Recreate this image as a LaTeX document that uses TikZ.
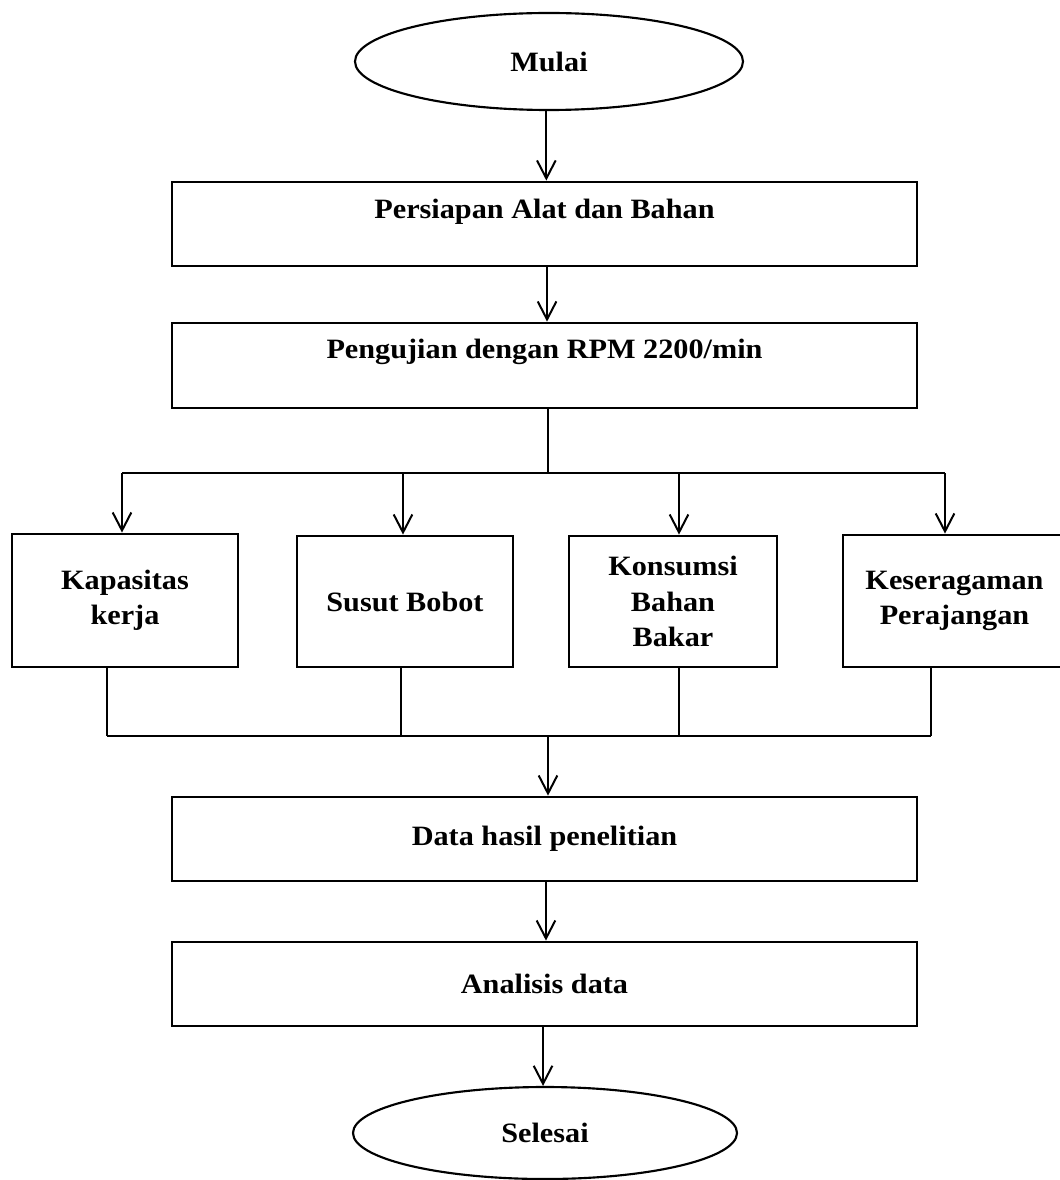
\documentclass[tikz,border=0pt]{standalone}
\usepackage{fontspec}
\setmainfont{Liberation Serif}[FakeStretch=1.08]
\usetikzlibrary{arrows.meta,shapes.geometric,calc}
\begin{document}
\begin{tikzpicture}[x=0.75pt,y=-0.75pt,
  txt/.style={font=\bfseries\fontsize{21}{26.5}\selectfont, align=center},
  box/.style={draw, line width=2.1pt, rectangle, inner sep=0pt, txt},
  term/.style={draw, line width=1.6pt, ellipse, inner sep=0pt, txt},
  arr/.style={line width=1.5pt, -{Straight Barb[length=13.5pt,width=14pt,line width=1.5pt]}},
  thinline/.style={line width=0.9pt},
  busline/.style={line width=1.6pt}]
\useasboundingbox (0,0) rectangle (1059,1180);

% terminals
\node[term, minimum width=388*0.75pt, minimum height=97*0.75pt] (mulai) at (549,61.5) {Mulai};
\node[term, minimum width=384*0.75pt, minimum height=92*0.75pt] (selesai) at (545,1133) {Selesai};

% main boxes
\node[box, minimum width=745*0.75pt, minimum height=84*0.75pt,
  label={[txt, yshift=9pt]center:Persiapan Alat dan Bahan}] (persiapan) at (544.5,224) {};
\node[box, minimum width=745*0.75pt, minimum height=85*0.75pt,
  label={[txt, yshift=10pt]center:Pengujian dengan RPM 2200/min}] (pengujian) at (544.5,365.5) {};
\node[box, minimum width=745*0.75pt, minimum height=84*0.75pt] (data) at (544.5,839) {Data hasil penelitian};
\node[box, minimum width=745*0.75pt, minimum height=84*0.75pt] (analisis) at (544.5,984) {Analisis data};

% parameter boxes
\node[box, minimum width=226*0.75pt, minimum height=133*0.75pt] (kap) at (125,600.5) {Kapasitas\\kerja};
\node[box, minimum width=216*0.75pt, minimum height=131*0.75pt] (susut) at (405,601.5) {Susut Bobot};
\node[box, minimum width=208*0.75pt, minimum height=131*0.75pt] (kons) at (673,601.5) {Konsumsi\\Bahan\\Bakar};
\node[box, minimum width=223*0.75pt, minimum height=132*0.75pt] (kes) at (954.5,601) {Keseragaman\\Perajangan};

% bus coordinates
\coordinate (top1) at (548,473);
\coordinate (a1) at (122,473);
\coordinate (a2) at (403,473);
\coordinate (a3) at (679,473);
\coordinate (a4) at (945,473);
\coordinate (bot1) at (548,736);
\coordinate (j1) at (107,736);
\coordinate (j2) at (401,736);
\coordinate (j3) at (679,736);
\coordinate (j4) at (931,736);

% connectors
\draw[arr] ([xshift=-2pt]mulai.south) -- ([xshift=-2pt]mulai.south |- persiapan.north);
\draw[arr] ([xshift=1.9pt]persiapan.south) -- ([xshift=1.9pt]pengujian.north);
\draw[thinline] (top1 |- pengujian.south) -- (top1);
\draw[busline] (a1) -- (a4);
\draw[arr] (a1) -- (a1 |- kap.north);
\draw[arr] (a2) -- (a2 |- susut.north);
\draw[arr] (a3) -- (a3 |- kons.north);
\draw[arr] (a4) -- (a4 |- kes.north);

\draw[thinline] (j1 |- kap.south) -- (j1);
\draw[thinline] (j2 |- susut.south) -- (j2);
\draw[thinline] (j3 |- kons.south) -- (j3);
\draw[thinline] (j4 |- kes.south) -- (j4);
\draw[busline] (j1) -- (j4);
\draw[arr] (bot1) -- (bot1 |- data.north);

\draw[arr] ([xshift=1.1pt]data.south) -- ([xshift=1.1pt]analisis.north);
\draw[arr] ([xshift=-1.1pt]analisis.south) -- ([xshift=-1.1pt]analisis.south |- selesai.north);
\end{tikzpicture}
\end{document}
